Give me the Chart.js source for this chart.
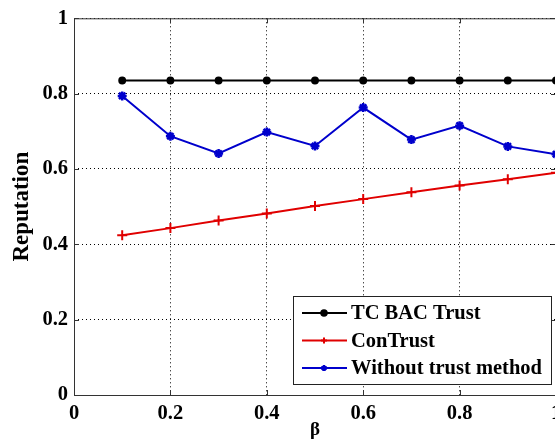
<!DOCTYPE html>
<html>
<head>
<meta charset="utf-8">
<script src="https://cdn.jsdelivr.net/npm/chart.js@4.4.0/dist/chart.umd.min.js"></script>
<style>
  html, body { margin: 0; padding: 0; background: #fff; overflow: hidden; }
  #wrap { width: 575px; height: 441px; }
</style>
</head>
<body>
<div id="wrap"><canvas id="chart" width="575" height="441"></canvas></div>
<script>
const betaValues = [0.1, 0.2, 0.3, 0.4, 0.5, 0.6, 0.7, 0.8, 0.9, 1.0];
const tcBacTrust = [0.835, 0.835, 0.835, 0.835, 0.835, 0.835, 0.835, 0.835, 0.835, 0.835];
const conTrust = [0.424, 0.443, 0.463, 0.482, 0.502, 0.520, 0.538, 0.556, 0.573, 0.590];
const withoutTrust = [0.794, 0.687, 0.641, 0.698, 0.661, 0.763, 0.678, 0.715, 0.660, 0.639];
const xTicks = [0, 0.2, 0.4, 0.6, 0.8, 1];
const yTicks = [0, 0.2, 0.4, 0.6, 0.8, 1];

const serif = "'Liberation Serif', 'Times New Roman', serif";

function toPoints(values) {
    return betaValues.map((b, i) => ({ x: b, y: values[i] }));
}

// frame + inward tick marks, matlab style
const framePlugin = {
    id: 'frame',
    afterDraw(chart) {
        const { ctx, chartArea: a, scales } = chart;
        ctx.save();
        ctx.strokeStyle = '#333';
        ctx.lineWidth = 1;
        ctx.strokeRect(a.left + 0.5, a.top + 0.5, a.right - a.left, a.bottom - a.top);
        ctx.beginPath();
        xTicks.forEach(v => {
            const px = Math.round(scales.x.getPixelForValue(v)) + 0.5;
            ctx.moveTo(px, a.bottom); ctx.lineTo(px, a.bottom - 5);
            ctx.moveTo(px, a.top); ctx.lineTo(px, a.top + 5);
        });
        yTicks.forEach(v => {
            const py = Math.round(scales.y.getPixelForValue(v)) + 0.5;
            ctx.moveTo(a.left, py); ctx.lineTo(a.left + 5, py);
            ctx.moveTo(a.right, py); ctx.lineTo(a.right - 5, py);
        });
        ctx.stroke();
        ctx.restore();
    }
};

// legend box inside the plot, lower right
const boxLegend = {
    id: 'boxLegend',
    afterDraw(chart) {
        const { ctx } = chart;
        const x0 = 293, y0 = 296, w = 258, h = 88;
        ctx.save();
        ctx.fillStyle = '#fff';
        ctx.fillRect(x0, y0, w, h);
        ctx.strokeStyle = '#222';
        ctx.lineWidth = 1;
        ctx.strokeRect(x0 + 0.5, y0 + 0.5, w, h);
        ctx.font = 'bold 20.5px ' + serif;
        ctx.textBaseline = 'middle';
        chart.data.datasets.forEach((ds, i) => {
            const y = y0 + 17 + i * 27.5;
            ctx.strokeStyle = ds.borderColor;
            ctx.lineWidth = 2;
            ctx.beginPath();
            ctx.moveTo(x0 + 9, y);
            ctx.lineTo(x0 + 54, y);
            ctx.stroke();
            ctx.fillStyle = ds.pointBackgroundColor;
            ctx.strokeStyle = ds.borderColor;
            ctx.lineWidth = ds.pointBorderWidth;
            Chart.helpers.drawPoint(ctx, { pointStyle: ds.pointStyle, radius: 3, rotation: 0, borderWidth: ds.pointBorderWidth }, x0 + 31, y);
            ctx.fillStyle = '#000';
            ctx.fillText(ds.label, x0 + 58, y + 1);
        });
        ctx.restore();
    }
};

const ctx = document.getElementById('chart').getContext('2d');
new Chart(ctx, {
    type: 'line',
    data: {
        datasets: [
            {
                label: 'TC BAC Trust',
                data: toPoints(tcBacTrust),
                borderColor: '#000',
                backgroundColor: '#000',
                pointBackgroundColor: '#000',
                pointStyle: 'circle',
                pointRadius: 3.2,
                pointBorderWidth: 1.5,
                borderWidth: 2
            },
            {
                label: 'ConTrust',
                data: toPoints(conTrust),
                borderColor: '#e00000',
                backgroundColor: '#e00000',
                pointBackgroundColor: '#e00000',
                pointStyle: 'cross',
                pointRadius: 5,
                pointBorderWidth: 2,
                borderWidth: 2
            },
            {
                label: 'Without trust method',
                data: toPoints(withoutTrust),
                borderColor: '#0000cc',
                backgroundColor: '#0000cc',
                pointBackgroundColor: '#0000cc',
                pointStyle: 'star',
                pointRadius: 4.5,
                pointBorderWidth: 2.5,
                borderWidth: 2
            }
        ]
    },
    options: {
        responsive: false,
        animation: false,
        layout: { padding: { top: 18, right: 19, left: 0, bottom: 0 } },
        plugins: {
            legend: { display: false },
            tooltip: { enabled: false }
        },
        scales: {
            x: {
                type: 'linear',
                min: 0,
                max: 1,
                afterBuildTicks: s => { s.ticks = xTicks.map(v => ({ value: v })); },
                afterFit: s => { s.height = 46; },
                grid: {
                    color: '#000',
                    lineWidth: 1,
                    drawTicks: false
                },
                border: { display: false, dash: [1, 3] },
                ticks: {
                    color: '#000',
                    padding: 6,
                    maxRotation: 0,
                    font: { family: serif, size: 20.5, weight: 'bold' },
                    callback: v => String(v)
                },
                title: {
                    display: true,
                    text: 'β',
                    color: '#000',
                    padding: { top: 2, bottom: 0 },
                    font: { family: serif, size: 19, weight: 'bold' }
                }
            },
            y: {
                type: 'linear',
                min: 0,
                max: 1,
                afterBuildTicks: s => { s.ticks = yTicks.map(v => ({ value: v })); },
                afterFit: s => { s.width = 74; },
                grid: {
                    color: '#000',
                    lineWidth: 1,
                    drawTicks: false
                },
                border: { display: false, dash: [1, 3] },
                ticks: {
                    color: '#000',
                    padding: 6,
                    font: { family: serif, size: 20.5, weight: 'bold' },
                    callback: v => String(v)
                },
                title: {
                    display: true,
                    text: 'Reputation',
                    color: '#000',
                    padding: { top: 8, bottom: 0 },
                    font: { family: serif, size: 23, weight: 'bold' }
                }
            }
        },
        elements: { line: { tension: 0 } }
    },
    plugins: [framePlugin, boxLegend]
});
</script>
</body>
</html>
